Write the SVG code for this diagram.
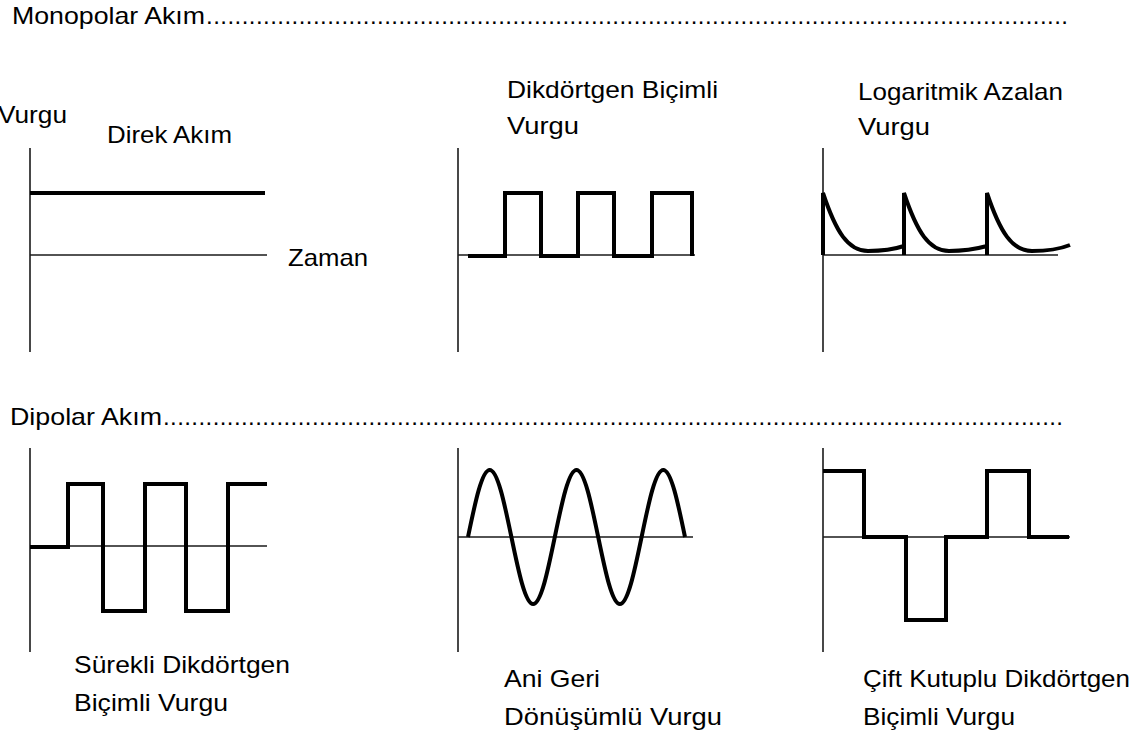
<svg xmlns="http://www.w3.org/2000/svg" width="1145" height="740" viewBox="0 0 1145 740">
<style>
text{font-family:"Liberation Sans",Arial,sans-serif;font-size:24px;fill:#000;}
.ax{stroke:#1a1a1a;stroke-width:1.6;fill:none;}
.w{stroke:#000;stroke-width:4;fill:none;stroke-linejoin:miter;}
</style>
<rect width="1145" height="740" fill="#fff"/>
<g id="headers">
<text x="12" y="24" textLength="193" lengthAdjust="spacingAndGlyphs">Monopolar Akım</text>
<text x="206" y="24" textLength="862">.........................................................................................................................</text>
<text x="10" y="425" textLength="152" lengthAdjust="spacingAndGlyphs">Dipolar Akım</text>
<text x="163" y="425" textLength="900">...............................................................................................................................</text>
</g>
<g id="panel-direk">
<text x="-2" y="123" textLength="69" lengthAdjust="spacingAndGlyphs">Vurgu</text>
<text x="107" y="143" textLength="125" lengthAdjust="spacingAndGlyphs">Direk Akım</text>
<text x="288" y="266" textLength="80" lengthAdjust="spacingAndGlyphs">Zaman</text>
<line class="ax" x1="30" y1="148" x2="30" y2="352"/>
<line class="ax" x1="30" y1="255" x2="267" y2="255"/>
<line class="w" x1="30" y1="193" x2="265" y2="193"/>
</g>
<g id="panel-dikdortgen">
<text x="507" y="98" textLength="211" lengthAdjust="spacingAndGlyphs">Dikdörtgen Biçimli</text>
<text x="507" y="134" textLength="72" lengthAdjust="spacingAndGlyphs">Vurgu</text>
<line class="ax" x1="458" y1="148" x2="458" y2="352"/>
<line class="ax" x1="458" y1="255" x2="695" y2="255"/>
<path class="w" d="M468,256 H505 V193 H541 V256 H578 V193 H614 V256 H652 V193 H692 V256"/>
</g>
<g id="panel-logaritmik">
<text x="858" y="100" textLength="205" lengthAdjust="spacingAndGlyphs">Logaritmik Azalan</text>
<text x="858" y="135" textLength="72" lengthAdjust="spacingAndGlyphs">Vurgu</text>
<line class="ax" x1="823" y1="148" x2="823" y2="352"/>
<line class="ax" x1="823" y1="255" x2="1058" y2="255"/>
<path class="w" d="M823,255 V193 C836,232 848,251 868,251 C885,251 895,249 904,246 M904,255 V193 C917,232 929,251 949,251 C966,251 976,249 987,246 M987,255 V193 C1000,232 1012,251 1032,251 C1049,251 1060,249 1070,245"/>
</g>
<g id="panel-surekli">
<line class="ax" x1="30" y1="448" x2="30" y2="652"/>
<line class="ax" x1="30" y1="546" x2="267" y2="546"/>
<path class="w" d="M30,547 H68 V484 H103 V611 H145 V484 H186 V611 H228 V484 H267"/>
<text x="74" y="673" textLength="216" lengthAdjust="spacingAndGlyphs">Sürekli Dikdörtgen</text>
<text x="74" y="711" textLength="154" lengthAdjust="spacingAndGlyphs">Biçimli Vurgu</text>
</g>
<g id="panel-ani-geri">
<line class="ax" x1="458" y1="448" x2="458" y2="652"/>
<line class="ax" x1="458" y1="537" x2="693" y2="537"/>
<path class="w" d="M468,537 C475.08,502.68 481.85,470 489.7,470 S504.32,502.68 511.4,537 S525.25,604 533.1,604 S547.72,571.32 554.8,537 S568.65,470 576.5,470 S591.12,502.68 598.2,537 S612.05,604 619.9,604 S634.52,571.32 641.6,537 S655.45,470 663.3,470 S677.92,502.68 685,537"/>
<text x="504" y="687" textLength="96" lengthAdjust="spacingAndGlyphs">Ani Geri</text>
<text x="504" y="725" textLength="218" lengthAdjust="spacingAndGlyphs">Dönüşümlü Vurgu</text>
</g>
<g id="panel-cift">
<line class="ax" x1="823" y1="448" x2="823" y2="652"/>
<line class="ax" x1="823" y1="537" x2="1070" y2="537"/>
<path class="w" d="M823,471 H864 V537 H906 V620 H946 V537 H987 V471 H1029 V537 H1069"/>
<text x="863" y="687" textLength="267" lengthAdjust="spacingAndGlyphs">Çift Kutuplu Dikdörtgen</text>
<text x="863" y="725" textLength="152" lengthAdjust="spacingAndGlyphs">Biçimli Vurgu</text>
</g>
</svg>
